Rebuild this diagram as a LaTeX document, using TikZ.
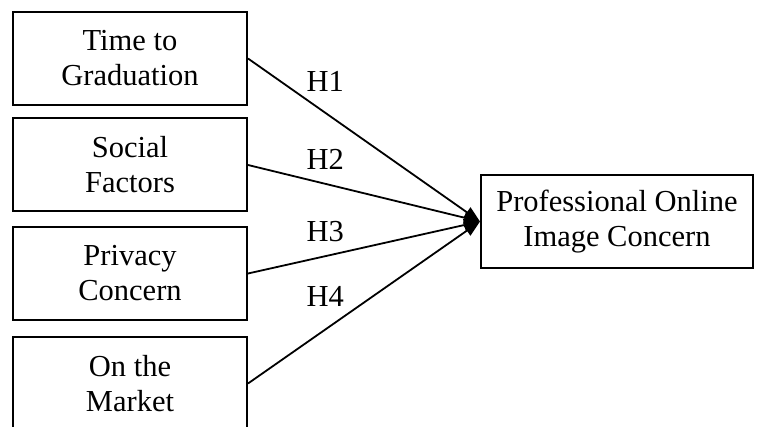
\documentclass[tikz,border=0pt]{standalone}
\usepackage{fontspec}
\setmainfont{Liberation Serif}
\usetikzlibrary{arrows.meta}
\begin{document}
\begin{tikzpicture}
  [x=1pt,y=-1pt,every node/.style={draw,line width=2pt,minimum width=234pt,minimum height=93pt,align=center,inner sep=0pt,font=\fontsize{30.5}{35}\selectfont}]
  \tikzstyle{hyp} = [draw=none,minimum width=0pt,minimum height=0pt,inner sep=2pt]
  \useasboundingbox (0,0) rectangle (757,427);
  \node (tg) at (130,58.5)  {Time to\\Graduation};
  \node (sf) at (130,165)   {Social\\Factors};
  \node (pc) at (130,273.5) {Privacy\\Concern};
  \node (om) at (130,383.5) {On the\\Market};
  \node (po) at (617,221.5) [minimum width=272pt] {Professional Online\\Image Concern};

 \foreach \source /\dest /\lbl /\off in {tg/po/H1/18pt,sf/po/H2/11pt,pc/po/H3/11pt,om/po/H4/20pt}
   \draw[line width=1.8pt,-{Triangle[length=16pt,width=12pt]}] (\source.east) --node[hyp,pos=.333,above=\off] {\lbl} (\dest.west);

\end{tikzpicture}
\end{document}
